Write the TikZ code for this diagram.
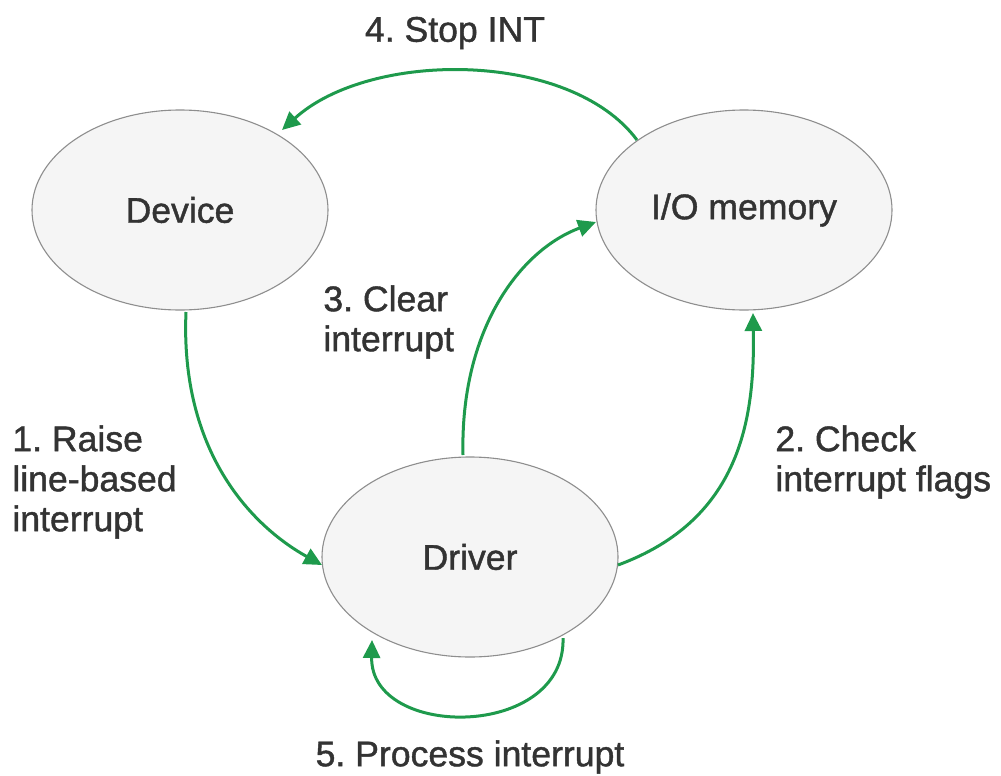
\documentclass[tikz,border=0pt]{standalone}
\usepackage{fontspec}
\setmainfont{Liberation Sans}[BoldFont=Liberation Sans, BoldFeatures={FakeBold=1.2}]
\usetikzlibrary{shapes.geometric,arrows.meta}
\definecolor{flow}{HTML}{1E9A4C}
\definecolor{bubble}{HTML}{F5F5F5}
\definecolor{rim}{HTML}{8E8E8E}
\definecolor{ink}{HTML}{333333}
\tikzset{
  state/.style={ellipse, draw=rim, fill=bubble, line width=0.55pt, inner sep=0pt,
    minimum width=148pt, minimum height=100pt, text=ink,
    font=\fontsize{17.8}{21}\selectfont\bfseries},
  lbl/.style={text=ink, inner sep=0pt, font=\fontsize{17.8}{20}\selectfont\bfseries},
  flowarrow/.style={draw=flow, line width=1.5pt, -{Triangle[length=9pt,width=8.5pt]}}
}
\frenchspacing
\begin{document}
\begin{tikzpicture}[x=0.5pt,y=-0.5pt]
\useasboundingbox (0,0) rectangle (1001,776);

% the three states
\node[state] (dev) at (180,210) {Device};
\node[state] (mem) at (744,210) {I/O memory};
\node[state] (drv) at (470,557) {Driver};

% anchor points on the ellipse rims
\coordinate (memTL) at (637,140);
\coordinate (devTR) at (282,130);
\coordinate (devB)  at (186,312);
\coordinate (drvL)  at (322,565);
\coordinate (drvT)  at (463,455);
\coordinate (memL)  at (596,222);
\coordinate (drvR)  at (618,565);
\coordinate (memB)  at (753,313);
\coordinate (drvBR) at (563,638);
\coordinate (drvBL) at (372,640);

% transitions
\draw[flowarrow] (memTL) .. controls (570,50) and (370,50) .. (devTR);
\draw[flowarrow] (devB) .. controls (180,450) and (250,525) .. (drvL);
\draw[flowarrow] (drvT) .. controls (460,330) and (520,250) .. (memL);
\draw[flowarrow] (drvR) .. controls (740,520) and (755,420) .. (memB);
\draw[flowarrow] (drvBR) .. controls (566,740) and (370,740) .. (drvBL);

% labels
\node[lbl] (l4) at (455,33) {4. Stop INT};
\node[lbl, anchor=north west, align=left] (l3) at (323,285) {3. Clear\\interrupt};
\node[lbl, anchor=north west, align=left] (l1) at (12,425) {1. Raise\\line-based\\interrupt};
\node[lbl, anchor=north west, align=left] (l2) at (775,425) {2. Check\\interrupt flags};
\node[lbl] (l5) at (470,757) {5. Process interrupt};
\end{tikzpicture}
\end{document}
